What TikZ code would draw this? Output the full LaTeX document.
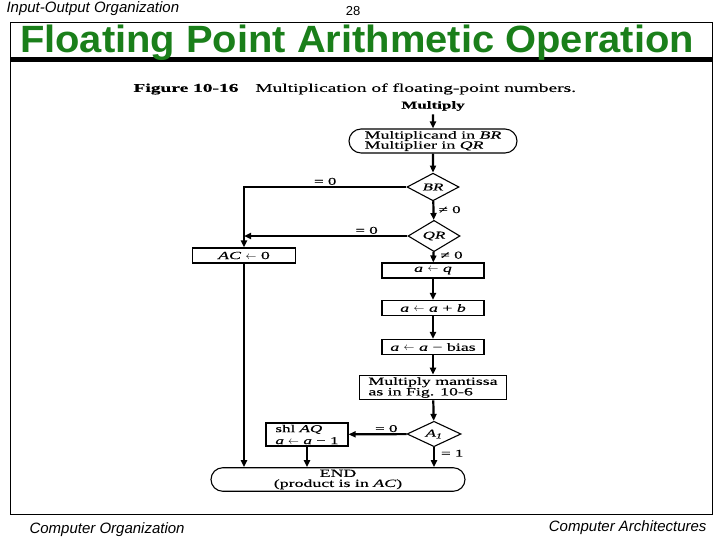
\documentclass[tikz,border=0pt]{standalone}
\usepackage{fontspec}
\setmainfont{Liberation Serif}
\newfontfamily\slidefont{Liberation Sans}
\newfontfamily\ttlfont[FakeStretch=1.05]{Liberation Sans}
\newfontfamily\figfont[FakeStretch=1.62,FakeBold=0.3]{Liberation Serif}
\usetikzlibrary{shapes.geometric,shapes.misc,arrows.meta,positioning}
\definecolor{ttlgreen}{HTML}{1A7F1A}
\newcommand{\asgn}{\ $\leftarrow$\ }

\begin{document}
\begin{tikzpicture}[x=1pt,y=-1pt,
  box/.style={draw,line width=1.1pt,inner sep=2pt,font=\figfont\fontsize{11}{10.5}\selectfont,
              minimum height=15pt,align=center},
  term/.style={draw,line width=1.1pt,rounded rectangle,inner sep=2pt,
               font=\figfont\fontsize{11}{10}\selectfont,align=center},
  dec/.style={draw,line width=1.1pt,diamond,inner sep=0pt,minimum width=52pt,
              minimum height=23pt,font=\figfont\itshape\fontsize{10.5}{10}\selectfont},
  lbl/.style={font=\figfont\fontsize{10.5}{10}\selectfont,inner sep=1pt},
  arr/.style={-{Triangle[length=7pt,width=6pt]},line width=2.2pt},
  slide/.style={font=\slidefont\itshape\fontsize{15}{16}\selectfont}]
\useasboundingbox (0,0) rectangle (720,540);

% slide frame
\draw[line width=0.8pt] (10,22) rectangle (712,514);
\draw[line width=5pt] (10,59.5) -- (712,59.5);
\node[slide,anchor=west] (hdl) at (3,9) {Input-Output Organization};
\node[font=\slidefont\fontsize{13}{14}\selectfont] (pg) at (353,11) {28};
\node[font=\ttlfont\bfseries\fontsize{38}{40}\selectfont,text=ttlgreen,anchor=base] (ttl) at (357,53)
  {Floating Point Arithmetic Operation};
\node[slide,anchor=west] (ftl) at (26,530) {Computer Organization};
\node[slide,anchor=east] (ftr) at (710,528) {Computer Architectures};

% flowchart
\node[font=\figfont\fontsize{12}{10}\selectfont,anchor=west] (cap) at (130,89)
  {\textbf{Figure 10-16}\quad\ Multiplication of floating-point numbers.};
\node[font=\figfont\bfseries\fontsize{10.5}{10}\selectfont] (mul) at (433,106) {Multiply};
\node[term,align=left,minimum width=172pt,minimum height=22pt] (ld) at (433,141)
  {Multiplicand in \textit{BR}\\Multiplier in \textit{QR}};
\node[dec] (br) at (433,187) {BR};
\node[dec] (qr) at (434,236) {QR};
\node[box,minimum width=103pt] (ac) at (244,255.5) {\textit{AC}\asgn0};
\node[box,minimum width=102pt] (aq) at (433,270.5) {\textit{a}\asgn\textit{q}};
\node[box,minimum width=102pt] (ab) at (433,308) {\textit{a}\asgn\textit{a} + \textit{b}};
\node[box,minimum width=102pt] (bs) at (433,347) {\textit{a}\asgn\textit{a} − bias};
\node[box,minimum width=147pt,minimum height=21pt,align=left] (mm) at (433,387.5)
  {Multiply mantissa\\as in Fig. 10-6};
\node[dec,minimum width=54pt] (a1) at (434,434) {A\textsubscript{1}};
\node[box,minimum width=82pt,minimum height=23pt,inner sep=0.5pt,align=left,
      font=\figfont\fontsize{10.5}{12}\selectfont] (sh) at (307,434.5)
  {shl \textit{AQ}\\\textit{a}\asgn\textit{a} − 1};
\node[term,minimum width=258pt,minimum height=19pt] (fin) at (338,479.5)
  {END\\(product is in \textit{AC})};

\draw[arr] (mul) -- (ld);
\draw[arr] (ld) -- (br);
\draw[arr] (br) -- node[lbl,right=3pt,pos=0.45] (l2) {≠ 0} (qr);
\draw[arr] (br) -| node[lbl,above,pos=0.25] (l1) {= 0} (ac);
\draw[arr] (qr) -- node[lbl,above,pos=0.25] (l3) {= 0} (qr -| ac);
\draw[arr] (qr) -- node[lbl,right=5pt,pos=0.3] (l4) {≠ 0} (aq);
\draw[arr] (aq) -- (ab);
\draw[arr] (ab) -- (bs);
\draw[arr] (bs) -- (mm);
\draw[arr] (mm) -- (a1);
\draw[arr] (a1) -- node[lbl,above,pos=0.35] (l5) {= 0} (sh);
\draw[arr] (a1) -- node[lbl,right=5pt,pos=0.3] (l6) {= 1} (a1 |- fin.north);
\draw[arr] (sh) -- (sh |- fin.north);
\draw[arr] (ac) -- (ac |- fin.north);
\end{tikzpicture}
\end{document}
